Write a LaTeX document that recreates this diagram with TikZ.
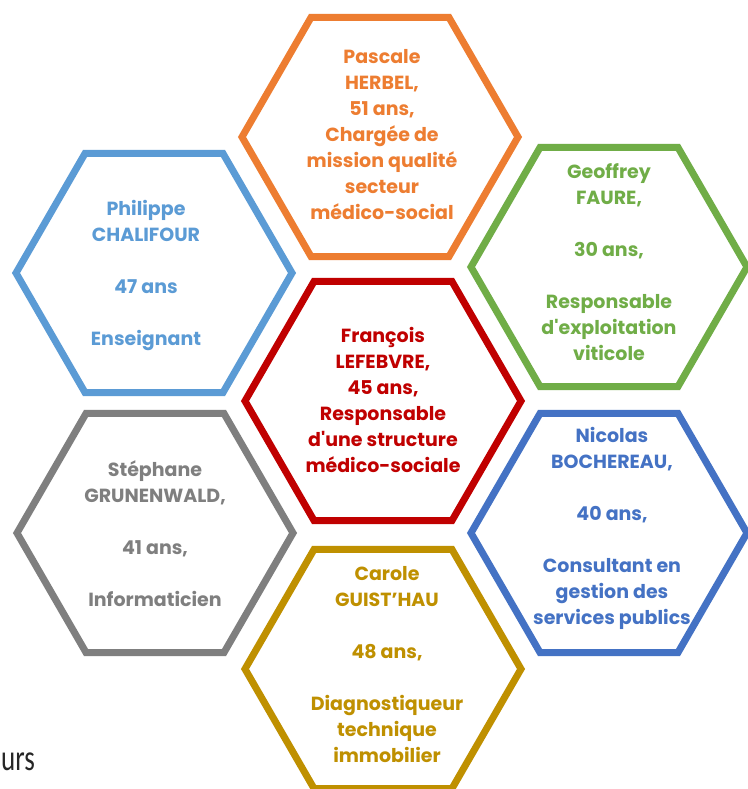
\documentclass[tikz,border=0pt]{standalone}
\usepackage{fontspec}
\setmainfont{Poppins}[Ligatures=TeXOff]
\newfontfamily\calib{Carlito}
\usetikzlibrary{shapes.geometric}
\definecolor{cOrange}{HTML}{ED7D31}
\definecolor{cGreen}{HTML}{70AD47}
\definecolor{cBlue}{HTML}{4472C4}
\definecolor{cLblue}{HTML}{5B9BD5}
\definecolor{cRed}{HTML}{C00000}
\definecolor{cGray}{HTML}{7F7F7F}
\definecolor{cGold}{HTML}{BF9000}
\tikzset{
  hex/.style={regular polygon, regular polygon sides=6, minimum size=276pt,
    inner sep=0pt, outer sep=0pt, line width=7pt, line join=miter, fill=white},
  txt/.style={align=center, inner sep=0pt,
    font=\bfseries\fontsize{19}{26}\selectfont},
}
\begin{document}
\begin{tikzpicture}[x=1pt,y=-1pt]
\useasboundingbox[fill=white] (0,0) rectangle (747,789);
\node[anchor=base west, inner sep=0pt, text=black!85, font=\calib\fontsize{27}{30}\selectfont] (urs) at (1,770) {\scalebox{1}[1.35]{urs}};
% hexagons
\node[hex, draw=cOrange] (hO) at (380,137) {};
\node[hex, draw=cLblue] (hP) at (154,273) {};
\node[hex, draw=cGreen] (hG) at (609,267) {};
\node[hex, draw=cRed] (hR) at (383,401) {};
\node[hex, draw=cGray] (hS) at (155,533) {};
\node[hex, draw=cBlue] (hN) at (609,533) {};
\node[hex, draw=cGold] (hC) at (383,669) {};
% texts
\node[txt, text=cOrange] (tO) at (382,135) {Pascale\\HERBEL,\\51 ans,\\Chargée de\\mission qualité\\secteur\\médico-social};
\node[txt, text=cLblue] (tP) at (146,275) {Philippe\\CHALIFOUR\\[26pt]47 ans\\[26pt]Enseignant};
\node[txt, text=cGreen] (tG) at (609,262) {Geoffrey\\FAURE,\\[26pt]30 ans,\\[26pt]Responsable\\d'exploitation\\viticole};
\node[txt, text=cRed] (tR) at (383,400) {François\\LEFEBVRE,\\45 ans,\\Responsable\\d'une structure\\médico-sociale};
\node[txt, text=cGray] (tS) at (155,534) {Stéphane\\GRUNENWALD,\\[26pt]41 ans,\\[26pt]Informaticien};
\node[txt, text=cBlue] (tN) at (612,528) {Nicolas\\BOCHEREAU,\\[26pt]40 ans,\\[26pt]Consultant en\\gestion des\\services publics};
\node[txt, text=cGold] (tC) at (387,665) {Carole\\GUIST’HAU\\[26pt]48 ans,\\[26pt]Diagnostiqueur\\technique\\immobilier};
\end{tikzpicture}
\end{document}
